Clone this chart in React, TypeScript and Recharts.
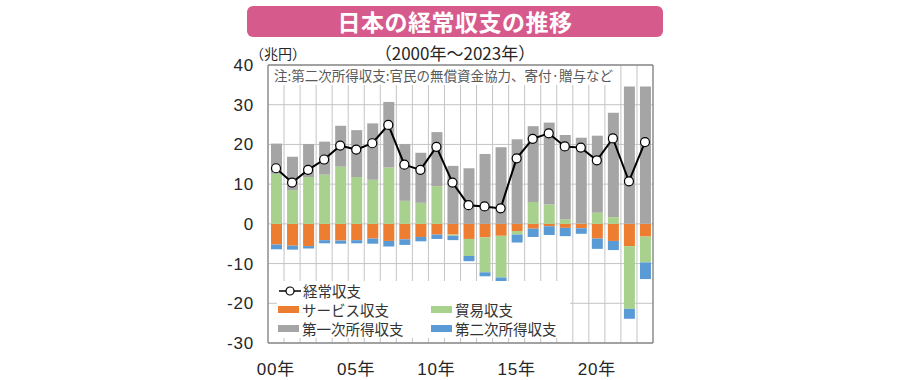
import React from "react";
import {
  ComposedChart,
  Bar,
  Line,
  XAxis,
  YAxis,
  CartesianGrid,
  Legend,
} from "recharts";

const years = [
  "2000", "2001", "2002", "2003", "2004", "2005", "2006", "2007",
  "2008", "2009", "2010", "2011", "2012", "2013", "2014", "2015",
  "2016", "2017", "2018", "2019", "2020", "2021", "2022", "2023",
];

// 兆円
const currentAccount = [
  14.0, 10.4, 13.6, 16.2, 19.7, 18.7, 20.3, 24.9, 14.9, 13.6, 19.4, 10.4,
  4.7, 4.4, 3.9, 16.5, 21.4, 22.8, 19.5, 19.2, 16.0, 21.5, 10.7, 20.6,
];
const trade = [
  12.6, 8.5, 11.8, 12.4, 14.4, 11.8, 11.1, 14.2, 5.8, 5.3, 9.5, -0.3,
  -4.3, -8.8, -10.5, -0.9, 5.5, 4.9, 1.1, 0.1, 2.8, 1.7, -15.8, -6.5,
];
const services = [
  -5.2, -5.5, -5.6, -4.1, -4.2, -4.1, -3.7, -4.3, -3.9, -3.3, -2.7, -2.7,
  -3.8, -3.4, -3.0, -1.8, -1.2, -0.6, -1.0, -1.1, -3.7, -4.3, -5.6, -3.2,
];
const primaryIncome = [
  7.6, 8.4, 8.3, 8.3, 10.3, 11.8, 14.2, 16.5, 14.3, 12.6, 13.6, 14.6,
  14.0, 17.6, 19.3, 21.3, 19.1, 20.6, 21.3, 21.6, 19.4, 26.3, 34.6, 34.6,
];
const secondaryIncome = [
  -1.2, -1.0, -0.6, -0.8, -0.8, -0.8, -1.3, -1.4, -1.4, -1.1, -1.1, -1.1,
  -1.3, -1.0, -1.9, -2.0, -2.1, -2.2, -2.1, -1.4, -2.6, -2.3, -2.5, -4.2,
];

const tickYears = ["2000", "2005", "2010", "2015", "2020"];
const yTicks = [-30, -20, -10, 0, 10, 20, 30, 40];

const data = years.map((y, i) => ({
  year: y,
  ca: currentAccount[i],
  trade: trade[i],
  services: services[i],
  primary: primaryIncome[i],
  secondary: secondaryIncome[i],
}));

const COLORS = {
  services: "#ed7d31",
  trade: "#a9d18e",
  primary: "#a5a5a5",
  secondary: "#5b9bd5",
};

const JP = '"Noto Sans CJK JP", sans-serif';
const NUM = '"Liberation Sans", Arial, "Noto Sans CJK JP", sans-serif';
const FRAME = "#8c8c8c";

const XTick = (p: any) => (
  <text
    x={p.x}
    y={p.y + 30}
    textAnchor="middle"
    fill="#262626"
    fontFamily={NUM}
    fontSize={17}
    letterSpacing={0.8}
  >
    {String(p.payload.value).slice(2)}年
  </text>
);

const YTick = (p: any) => (
  <text
    x={p.x}
    y={p.y}
    dy={6}
    textAnchor="end"
    fill="#262626"
    fontFamily={NUM}
    fontSize={17}
    letterSpacing={0.8}
  >
    {p.payload.value}
  </text>
);

const swatch = (color: string) => (
  <span
    style={{
      display: "inline-block",
      width: 21,
      height: 7,
      background: color,
      marginRight: 3,
      flex: "none",
    }}
  />
);

const row: React.CSSProperties = {
  display: "flex",
  alignItems: "center",
  height: 19,
  whiteSpace: "nowrap",
};

const label: React.CSSProperties = {
  display: "inline-block",
  lineHeight: "16px",
  height: 16,
};

const LegendBox = () => (
  <div style={{ fontFamily: JP, fontSize: 14.5, color: "#333" }}>
    <div style={row}>
      <svg width={24} height={12} style={{ marginRight: 1, flex: "none" }}>
        <line x1={1} y1={6} x2={23} y2={6} stroke="#000" strokeWidth={1.5} />
        <circle cx={12} cy={6} r={4} fill="#fff" stroke="#000" strokeWidth={1.2} />
      </svg>
      <span style={label}>経常収支</span>
    </div>
    <div style={row}>
      <div style={{ width: 153, display: "flex", alignItems: "center" }}>
        {swatch(COLORS.services)}
        <span style={label}>サービス収支</span>
      </div>
      {swatch(COLORS.trade)}
      <span style={label}>貿易収支</span>
    </div>
    <div style={row}>
      <div style={{ width: 153, display: "flex", alignItems: "center" }}>
        {swatch(COLORS.primary)}
        <span style={label}>第一次所得収支</span>
      </div>
      {swatch(COLORS.secondary)}
      <span style={label}>第二次所得収支</span>
    </div>
  </div>
);

export default function App() {
  return (
    <div
      style={{
        position: "absolute",
        left: 0,
        top: 0,
        width: 900,
        height: 380,
        background: "#fff",
      }}
    >
      <ComposedChart
        width={900}
        height={380}
        data={data}
        stackOffset="sign"
        margin={{ top: 64, right: 246, bottom: 0, left: 228 }}
      >
        <CartesianGrid
          stroke="#c4c4c4"
          strokeWidth={1}
          verticalCoordinatesGenerator={({ offset }: any) =>
            years.slice(1).map((_, i) => offset.left + ((i + 1) * offset.width) / years.length)
          }
        />
        <XAxis
          dataKey="year"
          ticks={tickYears}
          interval={0}
          height={37}
          tickSize={0}
          tickLine={false}
          axisLine={{ stroke: FRAME, strokeWidth: 1.5 }}
          tick={XTick}
        />
        <XAxis
          xAxisId="top"
          dataKey="year"
          orientation="top"
          height={1}
          tick={false}
          tickLine={false}
          axisLine={{ stroke: FRAME, strokeWidth: 1.5 }}
        />
        <YAxis
          type="number"
          domain={[-30, 40]}
          ticks={yTicks}
          width={40}
          tickSize={0}
          tickMargin={14}
          tickLine={false}
          axisLine={{ stroke: FRAME, strokeWidth: 1.5 }}
          tick={YTick}
        />
        <YAxis
          yAxisId="right"
          orientation="right"
          type="number"
          domain={[-30, 40]}
          ticks={yTicks}
          width={1}
          tick={false}
          tickLine={false}
          axisLine={{ stroke: FRAME, strokeWidth: 1.5 }}
        />
        <Legend
          layout="horizontal"
          verticalAlign="middle"
          align="center"
          content={LegendBox}
          wrapperStyle={{
            left: 277,
            top: 281,
            width: 293,
            height: 57,
            background: "#fff",
            padding: "0 0 0 1px",
            boxSizing: "border-box",
          }}
        />
        <Bar dataKey="services" stackId="s" fill={COLORS.services} barSize={11} isAnimationActive={false} />
        <Bar dataKey="trade" stackId="s" fill={COLORS.trade} barSize={11} isAnimationActive={false} />
        <Bar dataKey="primary" stackId="s" fill={COLORS.primary} barSize={11} isAnimationActive={false} />
        <Bar dataKey="secondary" stackId="s" fill={COLORS.secondary} barSize={11} isAnimationActive={false} />
        <Line
          yAxisId="right"
          dataKey="ca"
          stroke="#000"
          strokeWidth={2}
          dot={{ r: 4.5, fill: "#fff", stroke: "#000", strokeWidth: 1.2 }}
          isAnimationActive={false}
        />
      </ComposedChart>

      {/* title */}
      <div
        style={{
          position: "absolute",
          left: 247,
          top: 6,
          width: 416,
          height: 31,
          borderRadius: 6,
          background: "#d75a8c",
          color: "#fff",
          fontFamily: JP,
          fontWeight: 700,
          fontSize: 23,
          lineHeight: "31px",
          textAlign: "center",
          letterSpacing: 0.5,
        }}
      >
        日本の経常収支の推移
      </div>
      <div
        style={{
          position: "absolute",
          left: 250,
          top: 43,
          fontFamily: JP,
          fontSize: 14,
          color: "#262626",
        }}
      >
        （兆円）
      </div>
      <div
        style={{
          position: "absolute",
          left: 360,
          top: 40,
          width: 190,
          textAlign: "center",
          fontFamily: JP,
          fontSize: 17,
          color: "#262626",
        }}
      >
        （2000年～2023年）
      </div>
      {/* note */}
      <div
        style={{
          position: "absolute",
          left: 269,
          top: 66,
          width: 348,
          height: 19,
          background: "#fff",
          fontFamily: JP,
          fontSize: 13.5,
          lineHeight: "19px",
          color: "#595959",
          paddingLeft: 5,
          boxSizing: "border-box",
          whiteSpace: "nowrap",
        }}
      >
        注:第二次所得収支:官民の無償資金協力、寄付·贈与など
      </div>
    </div>
  );
}
